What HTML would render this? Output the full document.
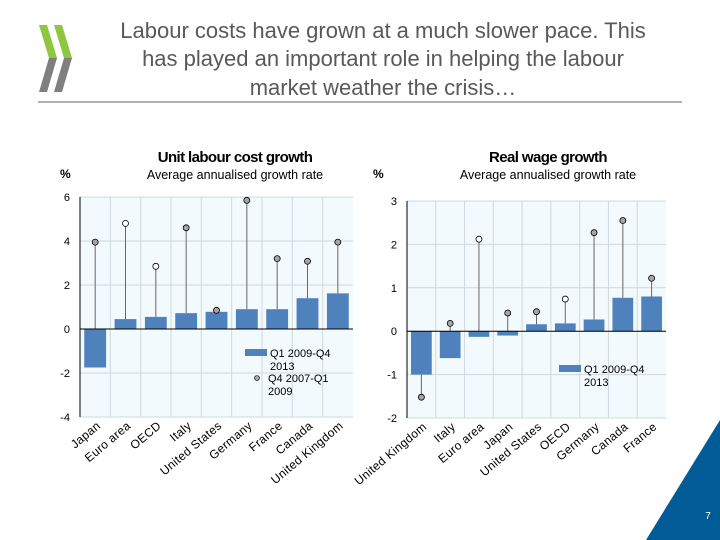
<!DOCTYPE html>
<html><head><meta charset="utf-8"><style>
body{margin:0;background:#fff;font-family:"Liberation Sans",sans-serif}
#wrap{position:relative;width:720px;height:540px;overflow:hidden}
</style></head><body>
<div id="wrap">
<svg width="720" height="540" id="svg" style="position:absolute;left:0;top:0">
 <g>
  <polygon points="39,25 47,25 57,58 49,58" fill="#8dc63f"/>
  <polygon points="49,58 57,58 47,92 39,92" fill="#7f7f7f"/>
  <polygon points="54,25 62,25 72,58 64,58" fill="#8dc63f"/>
  <polygon points="64,58 72,58 62,92 54,92" fill="#7f7f7f"/>
 </g>
 <g fill="#595959" font-size="22" text-anchor="middle">
  <text x="383" y="38">Labour costs have grown at a much slower pace. This</text>
  <text x="383" y="66">has played an important role in helping the labour</text>
  <text x="383" y="95">market weather the crisis…</text>
 </g>
 <line x1="38" y1="102" x2="682" y2="102" stroke="#808080" stroke-width="1.2"/>
 <polygon points="720,420 720,540 646,540" fill="#005b96"/>
 <text x="708" y="519" fill="#fff" font-size="10" text-anchor="middle">7</text>
 <g id="c1"></g><g id="c2"></g>
</svg>
</div>
<script>
const leftCats=["Japan","Euro area","OECD","Italy","United States","Germany","France","Canada","United Kingdom"];
const leftBars=[-1.75,0.45,0.55,0.72,0.78,0.9,0.9,1.4,1.62];
const leftDots=[3.95,4.8,2.85,4.6,0.85,5.85,3.2,3.08,3.95];
const leftHollow=[false,true,true,false,false,false,false,false,false];
const leftTicks=[6,4,2,0,-2,-4];
const rightCats=["United Kingdom","Italy","Euro area","Japan","United States","OECD","Germany","Canada","France"];
const rightBars=[-1.0,-0.62,-0.13,-0.1,0.16,0.18,0.27,0.77,0.8];
const rightDots=[-1.52,0.18,2.12,0.42,0.45,0.74,2.27,2.55,1.22];
const rightHollow=[false,false,true,false,false,true,false,false,false];
const rightTicks=[3,2,1,0,-1,-2];
const NS="http://www.w3.org/2000/svg";
function mk(p,t,a){const e=document.createElementNS(NS,t);for(const k in a)e.setAttribute(k,a[k]);p.appendChild(e);return e;}
function chart(g,o){
 const {x0,x1,yTop,yBot,vmax,vmin,cats,bars,dots,hollow,ticks,title,sub,pfx}=o;
 const y=v=>yTop+(vmax-v)/(vmax-vmin)*(yBot-yTop);
 const bw=(x1-x0)/cats.length;
 const t=mk(g,'text',{x:o.tx,y:162,'font-size':15,'font-weight':'bold','text-anchor':'middle',fill:'#000','letter-spacing':'-0.6'});t.textContent=title;
 
 
 const s=mk(g,'text',{x:o.sx,y:179,'font-size':12.5,'text-anchor':'middle',fill:'#000'});s.textContent=sub;
 
 
 const u=mk(g,'text',{x:o.ux,y:178,'font-size':12,'font-weight':'bold',fill:'#000'});u.textContent='%';
 
 
 const bg=mk(g,'rect',{x:x0,y:yTop,width:x1-x0,height:yBot-yTop,fill:'#f2fafd'});
 
 
 ticks.forEach(v=>{
  const l=mk(g,'line',{x1:x0,x2:x1,y1:y(v),y2:y(v),stroke:'#cfd8dc'});
  
  
  const tl=mk(g,'text',{x:x0-10,y:y(v)+4,'font-size':11,'text-anchor':'end',fill:'#000'});tl.textContent=v;
  
  
 });
 for(let i=1;i<cats.length;i++){const l=mk(g,'line',{x1:x0+i*bw,x2:x0+i*bw,y1:yTop,y2:yBot,stroke:'#cfd8dc'});
  
  }
 mk(g,'line',{x1:x0,x2:x0,y1:yTop,y2:yBot,stroke:'#000'});
 cats.forEach((c,i)=>{
  const cx=x0+(i+0.5)*bw;
  const st=mk(g,'line',{x1:cx,x2:cx,y1:y(bars[i]),y2:y(dots[i]),stroke:'#666'});
  
  
  const b=mk(g,'rect',{x:cx-bw*0.36,width:bw*0.72,y:Math.min(y(0),y(bars[i])),height:Math.abs(y(bars[i])-y(0)),fill:'#4f81bd'});
  
  
  const d=mk(g,'circle',{cx:cx,cy:y(dots[i]),r:3,fill:hollow[i]?'#fff':'#a6a6a6',stroke:'#000','stroke-width':0.8});
  
  
  const lb=mk(g,'text',{'font-size':12,'text-anchor':'end',fill:'#000',transform:`translate(${cx+6},${yBot+10}) rotate(-40)`,'letter-spacing':'0.3'});lb.textContent=c;
  
  
 });
 mk(g,'line',{x1:x0,x2:x1,y1:y(0),y2:y(0),stroke:'#000'});
 const lg=o.legend;
 const lgr=mk(g,'g',{});
 
 
 mk(lgr,'rect',{x:lg.x,y:lg.y,width:22,height:7,fill:'#4f81bd'});
 const l1=mk(lgr,'text',{x:lg.x+25,y:lg.y+8,'font-size':11}); l1.textContent='Q1 2009-Q4';
 const l2=mk(lgr,'text',{x:lg.x+25,y:lg.y+21,'font-size':11}); l2.textContent='2013';
 if(lg.dots){
  mk(lgr,'circle',{cx:lg.x+12,cy:lg.y+29,r:2.5,fill:'#a6a6a6',stroke:'#000','stroke-width':0.6});
  const l3=mk(lgr,'text',{x:lg.x+23,y:lg.y+33,'font-size':11}); l3.textContent='Q4 2007-Q1';
  const l4=mk(lgr,'text',{x:lg.x+23,y:lg.y+46,'font-size':11}); l4.textContent='2009';
 }
}
chart(document.getElementById('c1'),{x0:80,x1:353,yTop:197,yBot:417,vmax:6,vmin:-4,cats:leftCats,bars:leftBars,dots:leftDots,hollow:leftHollow,ticks:leftTicks,title:'Unit labour cost growth',sub:'Average annualised growth rate',tx:235,sx:235,ux:60,pfx:'ulc',legend:{x:245,y:349,dots:true}});
chart(document.getElementById('c2'),{x0:407,x1:666,yTop:201,yBot:418,vmax:3,vmin:-2,cats:rightCats,bars:rightBars,dots:rightDots,hollow:rightHollow,ticks:rightTicks,title:'Real wage growth',sub:'Average annualised growth rate',tx:548,sx:548,ux:373,pfx:'rw',legend:{x:559,y:365,dots:false}});
</script>
</body></html>
